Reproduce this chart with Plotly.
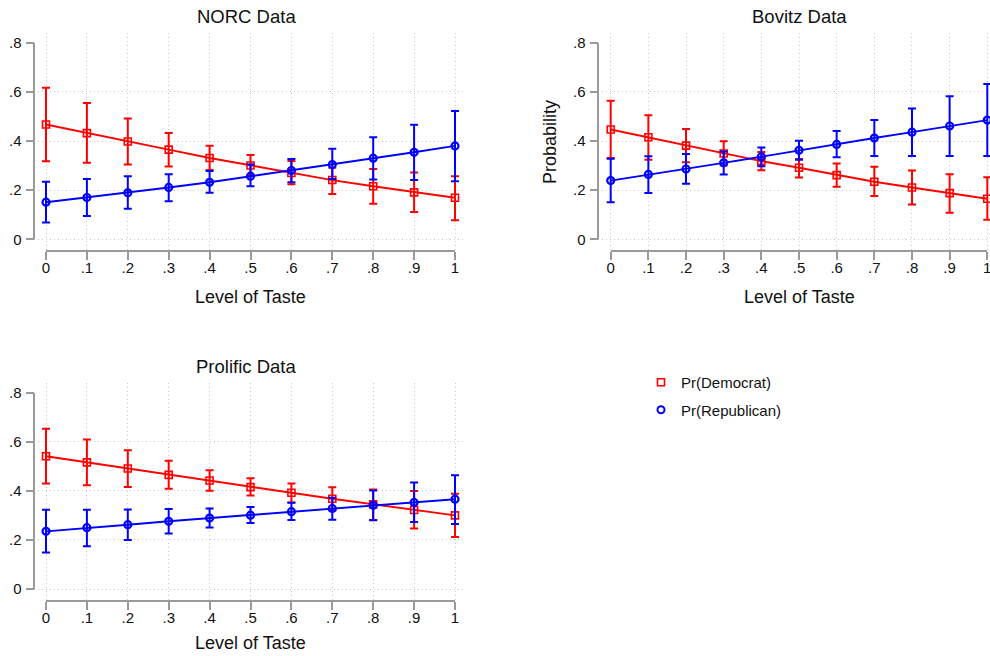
import plotly.graph_objects as go

# ---------------- data ----------------
taste = [0, 0.1, 0.2, 0.3, 0.4, 0.5, 0.6, 0.7, 0.8, 0.9, 1.0]
taste_labels = ["0", ".1", ".2", ".3", ".4", ".5", ".6", ".7", ".8", ".9", "1"]
prob_ticks = [0, 0.2, 0.4, 0.6, 0.8]
prob_labels = ["0", ".2", ".4", ".6", ".8"]

# NORC
norc_dem = [0.467, 0.432, 0.398, 0.365, 0.331, 0.300, 0.270, 0.241, 0.216, 0.191, 0.169]
norc_dem_hi = [0.617, 0.555, 0.492, 0.433, 0.381, 0.343, 0.319, 0.291, 0.286, 0.272, 0.257]
norc_dem_lo = [0.318, 0.311, 0.304, 0.296, 0.282, 0.261, 0.224, 0.184, 0.145, 0.111, 0.078]
norc_rep = [0.151, 0.170, 0.189, 0.211, 0.232, 0.257, 0.280, 0.304, 0.330, 0.354, 0.380]
norc_rep_hi = [0.234, 0.245, 0.257, 0.265, 0.278, 0.304, 0.327, 0.368, 0.415, 0.466, 0.522]
norc_rep_lo = [0.068, 0.095, 0.124, 0.155, 0.189, 0.216, 0.232, 0.245, 0.243, 0.241, 0.236]

# Bovitz
bov_dem = [0.447, 0.415, 0.381, 0.349, 0.318, 0.291, 0.261, 0.234, 0.211, 0.188, 0.165]
bov_dem_hi = [0.564, 0.505, 0.449, 0.399, 0.355, 0.327, 0.308, 0.295, 0.280, 0.265, 0.253]
bov_dem_lo = [0.331, 0.324, 0.314, 0.300, 0.281, 0.251, 0.214, 0.176, 0.142, 0.108, 0.080]
bov_rep = [0.239, 0.264, 0.286, 0.311, 0.336, 0.362, 0.386, 0.412, 0.436, 0.461, 0.485]
bov_rep_hi = [0.328, 0.338, 0.347, 0.357, 0.374, 0.401, 0.441, 0.485, 0.532, 0.582, 0.632]
bov_rep_lo = [0.151, 0.188, 0.226, 0.264, 0.297, 0.324, 0.334, 0.339, 0.339, 0.339, 0.339]

# Prolific
pro_dem = [0.541, 0.516, 0.491, 0.465, 0.442, 0.415, 0.392, 0.368, 0.345, 0.322, 0.300]
pro_dem_hi = [0.653, 0.609, 0.565, 0.523, 0.484, 0.451, 0.430, 0.415, 0.405, 0.399, 0.388]
pro_dem_lo = [0.430, 0.423, 0.416, 0.409, 0.400, 0.381, 0.353, 0.320, 0.281, 0.247, 0.212]
pro_rep = [0.235, 0.250, 0.262, 0.276, 0.289, 0.301, 0.315, 0.328, 0.341, 0.353, 0.366]
pro_rep_hi = [0.323, 0.323, 0.324, 0.326, 0.328, 0.334, 0.351, 0.372, 0.401, 0.434, 0.464]
pro_rep_lo = [0.149, 0.174, 0.200, 0.226, 0.251, 0.269, 0.281, 0.282, 0.280, 0.273, 0.265]

panel_titles = ["NORC Data", "Bovitz Data", "Prolific Data"]
x_title = "Level of Taste"
y_title = "Probability"
legend_names = ["Pr(Democrat)", "Pr(Republican)"]

# ---------------- style / layout ----------------
W, H = 990, 656
FONT = "Liberation Sans, Arial, Helvetica, sans-serif"
RED = "#ff0000"
BLUE = "#0000ff"
AXC = "#9a9a9a"
GRIDC = "#c8c8c8"


def px(x):
    return x / W


def py(y):
    return 1 - y / H


# pixel geometry of each panel: data x=0, x=1, left/right edges, data y=0, y=.8, top/bottom edges
geom = [
    dict(x0=46, x1=455, left=34.3, right=463, y0=239.3, y8=42.7, top=33, bottom=251),
    dict(x0=610.7, x1=987.3, left=598.3, right=990, y0=239.3, y8=42.7, top=33, bottom=251),
    dict(x0=46, x1=455, left=34.3, right=463, y0=589, y8=392.7, top=383, bottom=601),
]

datasets = [
    (norc_dem, norc_dem_lo, norc_dem_hi, norc_rep, norc_rep_lo, norc_rep_hi),
    (bov_dem, bov_dem_lo, bov_dem_hi, bov_rep, bov_rep_lo, bov_rep_hi),
    (pro_dem, pro_dem_lo, pro_dem_hi, pro_rep, pro_rep_lo, pro_rep_hi),
]

fig = go.Figure()
layout = {}

for i, (g, d) in enumerate(zip(geom, datasets)):
    n = i + 1
    sfx = "" if n == 1 else str(n)
    dn = n + 3
    xs = g["x1"] - g["x0"]
    ys = (g["y0"] - g["y8"]) / 0.8
    xr = [(g["left"] - g["x0"]) / xs, (g["right"] - g["x0"]) / xs]
    yr = [(g["y0"] - g["bottom"]) / ys, (g["y0"] - g["top"]) / ys]

    # Stata-style detached axes (only lines, ticks and labels)
    layout["xaxis" + str(dn)] = dict(
        domain=[px(g["x0"]), px(g["x1"])], range=[-1e-4, 1 + 1e-4], anchor="free",
        position=py(g["bottom"]), showline=True, linecolor=AXC, linewidth=1.5,
        ticks="outside", ticklen=8, tickwidth=1.5, tickcolor=AXC,
        tickmode="array", tickvals=taste, ticktext=taste_labels,
        tickfont=dict(size=15, color="#111111", family=FONT),
        ticklabelstandoff=-5, ticklabeloverflow="allow", automargin=False,
        showgrid=False, zeroline=False, fixedrange=True,
    )
    layout["yaxis" + str(dn)] = dict(
        domain=[py(g["y0"]), py(g["y8"])], range=[-1e-4, 0.8 + 1e-4], anchor="free",
        position=px(g["left"]), showline=True, linecolor=AXC, linewidth=1.5,
        ticks="outside", ticklen=8, tickwidth=1.5, tickcolor=AXC,
        tickmode="array", tickvals=prob_ticks, ticktext=prob_labels,
        tickfont=dict(size=15, color="#111111", family=FONT),
        ticklabelstandoff=1, ticklabeloverflow="allow", automargin=False,
        showgrid=False, zeroline=False, fixedrange=True,
    )
    fig.add_trace(go.Scatter(x=[None], y=[None], xaxis="x" + str(dn), yaxis="y" + str(dn),
                             showlegend=False, hoverinfo="skip", mode="markers"))

    layout["xaxis" + sfx] = dict(
        domain=[px(g["left"]), px(g["right"])], range=xr, anchor="y" + sfx,
        showline=False, showticklabels=False, ticks="", zeroline=False,
        showgrid=True, gridcolor=GRIDC, griddash="1px,3px", gridwidth=1,
        tickmode="array", tickvals=taste, fixedrange=True, automargin=False,
    )
    layout["yaxis" + sfx] = dict(
        domain=[py(g["bottom"]), py(g["top"])], range=yr, anchor="x" + sfx,
        showline=False, showticklabels=False, ticks="", zeroline=False,
        showgrid=True, gridcolor=GRIDC, griddash="1px,3px", gridwidth=1,
        tickmode="array", tickvals=prob_ticks[:-1], fixedrange=True, automargin=False,
    )

    dem, dem_lo, dem_hi, rep, rep_lo, rep_hi = d
    for vals, lo, hi, col, sym, lw in [
        (dem, dem_lo, dem_hi, RED, "square-open", 1.6),
        (rep, rep_lo, rep_hi, BLUE, "circle-open", 2.2),
    ]:
        fig.add_trace(go.Scatter(
            x=taste, y=vals, xaxis="x" + sfx, yaxis="y" + sfx,
            mode="lines+markers", showlegend=False,
            line=dict(color=col, width=1.9),
            marker=dict(symbol=sym, size=7, color=col, line=dict(color=col, width=lw)),
            error_y=dict(type="data", symmetric=False,
                         array=[h - v for h, v in zip(hi, vals)],
                         arrayminus=[v - l for v, l in zip(vals, lo)],
                         color=col, thickness=2, width=4),
        ))

# legend-only traces
for k, (name, col, sym, lw) in enumerate([(legend_names[0], RED, "square-open", 1.6),
                                          (legend_names[1], BLUE, "circle-open", 2.0)]):
    fig.add_trace(go.Scatter(x=[None], y=[None], mode="markers", name=name, legendgroup="g%d" % k,
                             marker=dict(symbol=sym, size=7, color=col, line=dict(color=col, width=lw))))

annotations = []
title_pos = [(246.5, 16), (799, 16), (246, 366)]
for t, (x, y) in zip(panel_titles, title_pos):
    annotations.append(dict(text=t, x=px(x), y=py(y), xref="paper", yref="paper",
                            xanchor="center", yanchor="middle", showarrow=False,
                            font=dict(size=18.5, color="#111111", family=FONT)))
xt_pos = [(250.5, 297), (799, 297), (250.5, 643)]
for x, y in xt_pos:
    annotations.append(dict(text=x_title, x=px(x), y=py(y), xref="paper", yref="paper",
                            xanchor="center", yanchor="middle", showarrow=False,
                            font=dict(size=18, color="#111111", family=FONT)))
annotations.append(dict(text=y_title, x=px(550), y=py(142), xref="paper", yref="paper",
                        xanchor="center", yanchor="middle", showarrow=False, textangle=-90,
                        font=dict(size=18, color="#111111", family=FONT)))

fig.update_layout(
    width=W, height=H, autosize=False,
    margin=dict(l=0, r=0, t=0, b=0, pad=0, autoexpand=False),
    paper_bgcolor="white", plot_bgcolor="rgba(0,0,0,0)",
    font=dict(family=FONT, size=15, color="#111111"),
    annotations=annotations,
    legend=dict(x=px(641), y=py(366), xanchor="left", yanchor="top",
                font=dict(size=15, family=FONT, color="#111111"),
                bgcolor="rgba(0,0,0,0)", borderwidth=0, tracegroupgap=5,
                traceorder="grouped"),
    hovermode=False,
    **layout,
)

fig.write_html("out.html")
